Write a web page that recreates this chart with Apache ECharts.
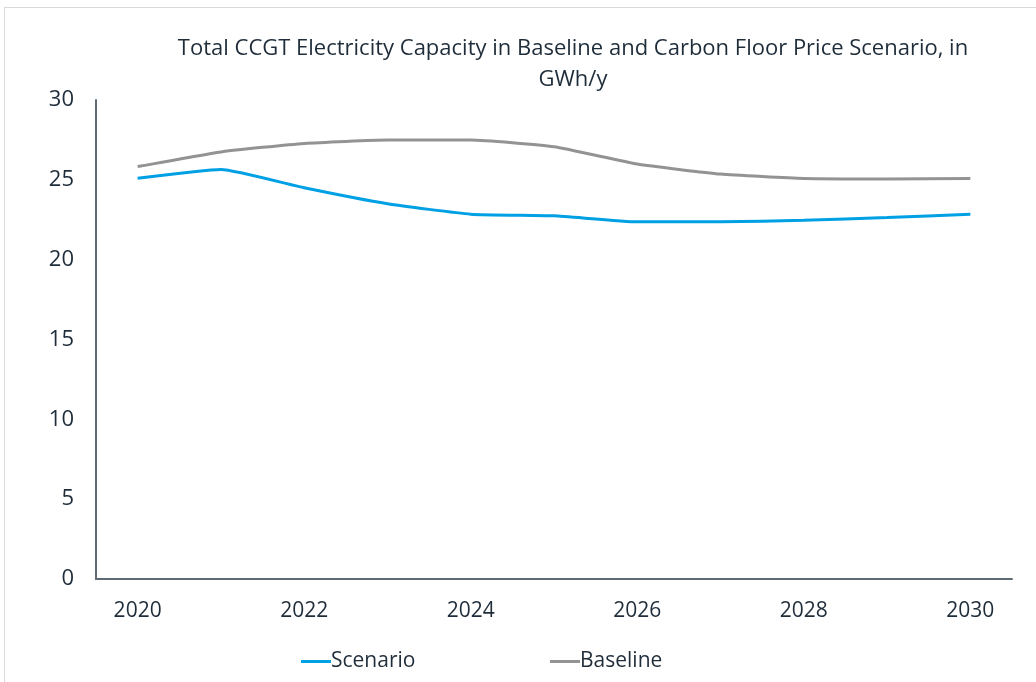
<!DOCTYPE html>
<html>
<head>
<meta charset="utf-8">
<script src="https://cdn.jsdelivr.net/npm/echarts@6/dist/echarts.min.js"></script>
<style>
  html, body { margin: 0; padding: 0; background: #ffffff; }
  #frame { position: absolute; left: 4px; top: 7px; width: 1040px; height: 700px; border: 1px solid #d9d9d9; box-sizing: border-box; }
  #chart { position: absolute; left: 0; top: 0; width: 1036px; height: 682px; }
</style>
</head>
<body>
<div id="frame"></div>
<div id="chart"></div>
<script>
// Years on the category axis
const years = ['2020', '2021', '2022', '2023', '2024', '2025', '2026', '2027', '2028', '2029', '2030'];
// Total CCGT capacity, GWh/y
const scenario = [25.1, 25.65, 24.5, 23.5, 22.85, 22.75, 22.37, 22.37, 22.47, 22.64, 22.85];
const baseline = [25.83, 26.75, 27.28, 27.49, 27.49, 27.07, 25.99, 25.36, 25.09, 25.06, 25.09];

const titleText = 'Total CCGT Electricity Capacity in Baseline and Carbon Floor Price Scenario, in\nGWh/y';
const textColor = '#1f2d3a';
const fontFamily = '"Open Sans", sans-serif';

const chart = echarts.init(document.getElementById('chart'), null, { renderer: 'canvas' });
chart.setOption({
  animation: false,
  backgroundColor: 'transparent',
  title: {
    text: titleText,
    left: 568,
    textAlign: 'center',
    top: 28,
    textStyle: { fontFamily: fontFamily, fontSize: 22, fontWeight: 'normal', color: textColor, lineHeight: 31 }
  },
  legend: [
    {
      data: ['Scenario'], left: 296, top: 646, icon: 'rect', itemWidth: 30, itemHeight: 3, itemGap: 2,
      textStyle: { fontFamily: fontFamily, fontSize: 21, color: textColor, padding: [0, 0, 0, -5] }
    },
    {
      data: ['Baseline'], left: 545, top: 646, icon: 'rect', itemWidth: 30, itemHeight: 3, itemGap: 2,
      textStyle: { fontFamily: fontFamily, fontSize: 21, color: textColor, padding: [0, 0, 0, -5] }
    }
  ],
  grid: { left: 96, right: 24, top: 100, bottom: 103, containLabel: false },
  xAxis: {
    type: 'category',
    data: years,
    boundaryGap: true,
    axisLine: { lineStyle: { color: '#5f6b73', width: 2 } },
    axisTick: { show: false },
    axisLabel: {
      interval: 1, margin: 22,
      fontFamily: fontFamily, fontSize: 21, color: textColor
    },
    splitLine: { show: false }
  },
  yAxis: {
    type: 'value',
    min: 0, max: 30, interval: 5,
    axisLine: { show: true, lineStyle: { color: '#5f6b73', width: 2 } },
    axisTick: { show: false },
    axisLabel: { margin: 22, fontFamily: fontFamily, fontSize: 22, color: textColor },
    splitLine: { show: false }
  },
  series: [
    {
      name: 'Scenario', type: 'line', data: scenario, smooth: 0.15,
      symbol: 'none', color: '#00a0e4', lineStyle: { width: 3, color: '#00a0e4' }
    },
    {
      name: 'Baseline', type: 'line', data: baseline, smooth: 0.15,
      symbol: 'none', color: '#939393', lineStyle: { width: 3, color: '#939393' }
    }
  ]
});
</script>
</body>
</html>
